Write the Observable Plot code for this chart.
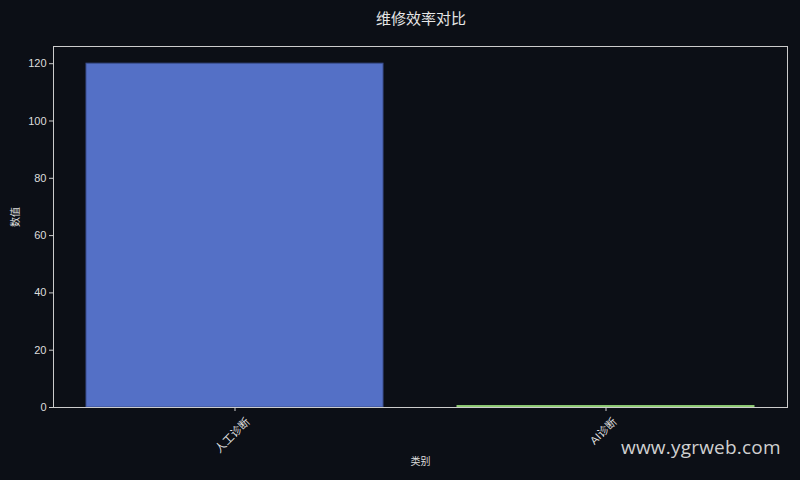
<!DOCTYPE html>
<html>
<head>
<meta charset="utf-8">
<script src="https://cdn.jsdelivr.net/npm/d3@7"></script>
<script src="https://cdn.jsdelivr.net/npm/@observablehq/plot@0.6"></script>
<style>
  html, body { margin: 0; padding: 0; background: #0c0f16; }
  #wrap { position: relative; width: 800px; height: 480px; overflow: hidden; background: #0c0f16; font-family: "Noto Sans CJK SC", "DejaVu Sans", sans-serif; }
  #title { position: absolute; left: 0; top: 7px; width: 842px; text-align: center; color: #e6e6e6; font-size: 15px; line-height: 22px; }
  #chart { position: absolute; left: 0; top: 36px; }
  #wm { position: absolute; left: 621px; top: 434px; color: #d0d0d0; font-family: "Open Sans", "DejaVu Sans", sans-serif; font-size: 19px; letter-spacing: 0.2px; }
</style>
</head>
<body>
<div id="wrap">
  <div id="title">维修效率对比</div>
  <div id="chart"></div>
  <div id="wm">www.ygrweb.com</div>
</div>
<script>
const categories = ["人工诊断", "AI诊断"];
const values = [120, 0.5];
const barColors = ["#5470c6", "#91cc75"];
const edgeColors = ["#3a4f8f", "#91cc75"];
const yTicks = [0, 20, 40, 60, 80, 100, 120];

const FONT = "'Liberation Sans', Arial, 'Noto Sans CJK SC', sans-serif";
const ctx = document.createElement("canvas").getContext("2d");
ctx.font = "11px " + FONT;
const data = categories.map((c, i) => {
  const w = ctx.measureText(c).width;
  return {category: c, value: values[i], fill: barColors[i], edge: edgeColors[i], off: 11 + (w + 11) * 0.7071 / 2};
});

const chart = Plot.plot({
  width: 800,
  height: 444,
  marginLeft: 53,
  marginRight: 13,
  marginTop: 10,
  marginBottom: 73,
  style: {background: "transparent", color: "#dddddd", fontFamily: FONT, fontSize: "11px"},
  x: {domain: categories, paddingInner: 0.2, paddingOuter: 0.089, label: null, axis: null},
  y: {domain: [0, 126], label: null, axis: null},
  marks: [
    Plot.barY(data, {x: "category", y: "value", fill: d => d.fill, stroke: d => d.edge, strokeWidth: 1}),
    Plot.frame({stroke: "#cccccc", strokeWidth: 1}),
    Plot.axisY({ticks: yTicks, tickSize: 4, tickPadding: 3, stroke: "#cccccc", fill: "#dddddd", label: null, fontSize: 11}),
    Plot.axisX({tickSize: 4, tickFormat: () => "", stroke: "#cccccc", label: null}),
    ...data.map(d => Plot.text([d], {x: "category", text: "category", frameAnchor: "bottom", dy: d.off, rotate: -45, textAnchor: "middle", fill: "#dddddd", fontSize: 11})),
    Plot.text(["类别"], {frameAnchor: "bottom", dy: 57, fill: "#dddddd", fontSize: 10, fontFamily: "'Noto Sans CJK SC', sans-serif"}),
    Plot.text(["数值"], {frameAnchor: "left", dx: -38, rotate: -90, fill: "#dddddd", fontSize: 10, fontFamily: "'Noto Sans CJK SC', sans-serif"})
  ]
});
document.getElementById("chart").appendChild(chart);
</script>
</body>
</html>
